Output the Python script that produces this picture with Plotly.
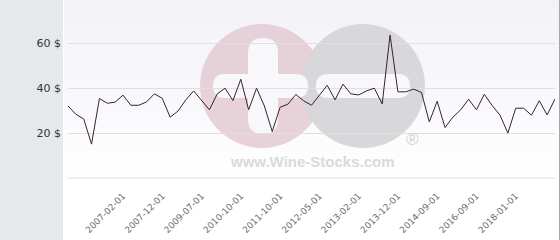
import plotly.graph_objects as go

# ---- data ----
prices = [32.1, 28.4, 26.3, 15.1, 35.4, 33.3, 33.8, 36.9, 32.4, 32.4,
          33.9, 37.5, 35.5, 27.1, 29.8, 34.8, 38.8, 34.8, 30.4, 37.5,
          40.0, 34.5, 44.0, 30.4, 40.0, 32.1, 20.7, 31.5, 32.9, 37.2,
          34.4, 32.4, 36.9, 41.3, 34.8, 41.8, 37.5, 37.0, 38.8, 40.0,
          33.0, 63.7, 38.4, 38.4, 39.6, 38.1, 25.0, 34.2, 22.5, 27.1,
          30.4, 35.1, 30.4, 37.3, 32.3, 28.0, 20.0, 31.1, 31.1, 28.0,
          34.4, 28.1, 35.2]
tick_positions = [7, 12, 17, 22, 27, 32, 37, 42, 47, 52, 57]
tick_labels = ["2007-02-01", "2007-12-01", "2009-07-01", "2010-10-01",
               "2011-10-01", "2012-05-01", "2013-02-01", "2013-12-01",
               "2014-09-01", "2016-09-01", "2018-01-01"]
y_ticks = [0, 20, 40, 60]

W, H = 560, 240
ML, MR, MT, MB = 68, 5, 0, 62
PW = W - ML - MR
PH = H - MT - MB


def px(x):
    return (x - ML) / PW


def py(y):
    return (H - MB - y) / PH


shapes = []
# left gray panel
shapes.append(dict(type="rect", xref="paper", yref="paper", x0=px(0), x1=px(63),
                   y0=py(H), y1=py(0), fillcolor="#e5e9ec", line_width=0, layer="below"))
# gradient background bands
n = 24
for i in range(n):
    t = i / (n - 1)
    c0 = (242, 242, 248)
    c = tuple(round(c0[k] + (255 - c0[k]) * min(1, t * 1.3)) for k in range(3))
    y0 = i * H / n
    y1 = (i + 1) * H / n
    shapes.append(dict(type="rect", xref="paper", yref="paper", x0=px(64), x1=px(559),
                       y0=py(y1), y1=py(y0), fillcolor="rgb(%d,%d,%d)" % c,
                       line_width=0, layer="below"))
# right border
shapes.append(dict(type="line", xref="paper", yref="paper", x0=px(559.5), x1=px(559.5),
                   y0=py(H), y1=py(0), line=dict(color="#a8a8a8", width=1), layer="below"))


def circle(cx, cy, r, color):
    return dict(type="circle", xref="paper", yref="paper", x0=px(cx - r), x1=px(cx + r),
                y0=py(cy + r), y1=py(cy - r), fillcolor=color, line_width=0, layer="below")


def pill(x0, y0, x1, y1, color):
    # rounded rectangle via quadratic curves (pixel coords -> paper)
    r = min(x1 - x0, y1 - y0) / 2
    pts = [
        ("M", [(x0 + r, y0)]),
        ("L", [(x1 - r, y0)]),
        ("Q", [(x1, y0), (x1, y0 + r)]),
        ("L", [(x1, y1 - r)]),
        ("Q", [(x1, y1), (x1 - r, y1)]),
        ("L", [(x0 + r, y1)]),
        ("Q", [(x0, y1), (x0, y1 - r)]),
        ("L", [(x0, y0 + r)]),
        ("Q", [(x0, y0), (x0 + r, y0)]),
    ]
    path = ""
    for cmd, ps in pts:
        path += cmd + " " + " ".join("%.5f,%.5f" % (px(a), py(b)) for a, b in ps) + " "
    path += "Z"
    return dict(type="path", xref="paper", yref="paper", path=path, fillcolor=color,
                line_width=0, layer="below")


shapes.append(circle(262, 86, 62, "rgba(226,196,206,0.75)"))
shapes.append(circle(363, 86, 62, "rgba(214,214,216,0.95)"))
shapes.append(pill(248, 38, 278, 134, "rgba(248,248,251,1)"))
shapes.append(pill(213, 74, 308, 98, "rgba(248,248,251,1)"))
shapes.append(pill(316, 74, 410, 98, "rgba(248,248,251,1)"))
# zero gridline (at the bottom edge of the plotting range)
shapes.append(dict(type="line", xref="paper", yref="paper", x0=0, x1=1, y0=0, y1=0,
                   line=dict(color="#e0e0e0", width=1), layer="below"))

annotations = [
    dict(xref="paper", yref="paper", x=px(312), y=py(161), text="<b>www.Wine-Stocks.com</b>",
         showarrow=False, font=dict(family="Liberation Sans", size=15, color="#dadada"),
         xanchor="center", yanchor="middle"),
    dict(xref="paper", yref="paper", x=px(412), y=py(139), text="®",
         showarrow=False, font=dict(family="Liberation Sans", size=17, color="#d2d2d2"),
         xanchor="center", yanchor="middle"),
]

fig = go.Figure()
fig.add_trace(go.Scatter(x=list(range(len(prices))), y=prices, mode="lines",
                         line=dict(color="#3a2030", width=1), hoverinfo="skip"))

fig.update_layout(
    width=W, height=H,
    margin=dict(l=ML, r=MR, t=MT, b=MB),
    paper_bgcolor="white",
    plot_bgcolor="rgba(0,0,0,0)",
    showlegend=False,
    shapes=shapes,
    annotations=annotations,
    xaxis=dict(range=[0, len(prices) - 1], tickmode="array", tickvals=tick_positions,
               ticktext=tick_labels, tickangle=-45, showgrid=False, zeroline=False,
               showline=False, ticks="", ticklabelstandoff=10,
               tickfont=dict(family="DejaVu Sans", size=9, color="#6e6e6e")),
    yaxis=dict(range=[0, 79.3], tickmode="array", tickvals=y_ticks,
               ticktext=["", "20 $", "40 $", "60 $"], showgrid=True,
               gridcolor="#e0e0e0", gridwidth=1, zeroline=False, showline=False,
               ticks="", ticklabelstandoff=6,
               tickfont=dict(family="DejaVu Sans", size=11, color="#333333")),
)

fig.write_html("out.html")
